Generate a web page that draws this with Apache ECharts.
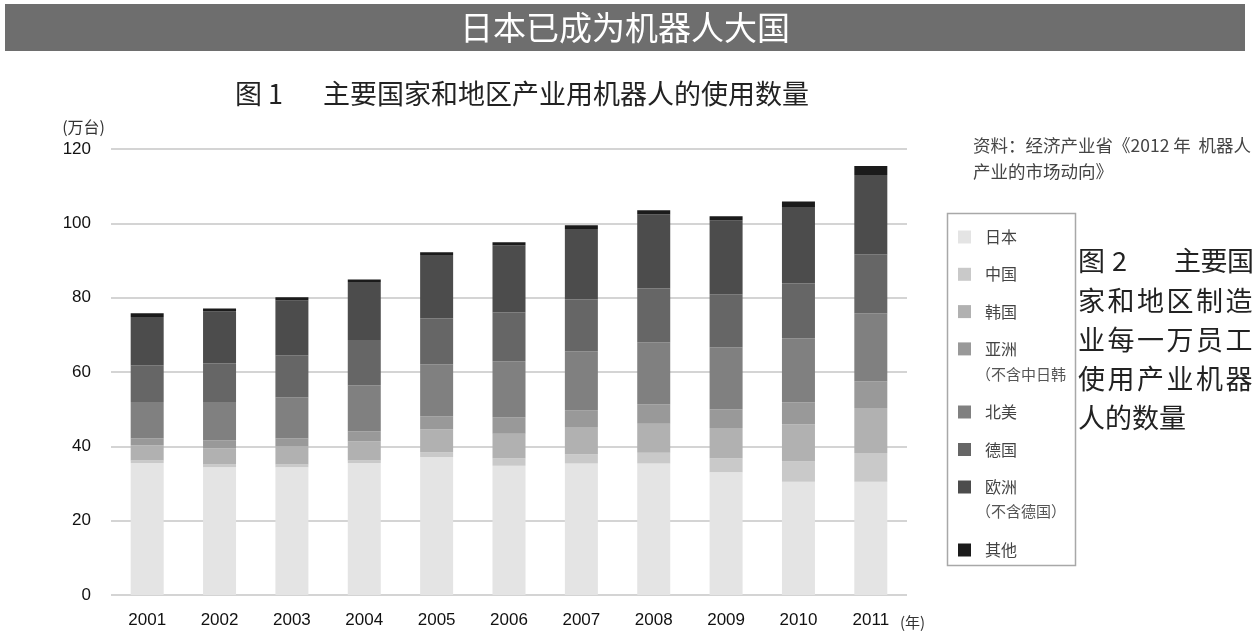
<!DOCTYPE html>
<html>
<head>
<meta charset="utf-8">
<script src="https://cdn.jsdelivr.net/npm/echarts@6/dist/echarts.min.js"></script>
<style>
html,body{margin:0;padding:0;background:#fff;}
#chart{width:1259px;height:644px;}
</style>
</head>
<body>
<div id="chart"></div>
<script>
var years = ['2001','2002','2003','2004','2005','2006','2007','2008','2009','2010','2011'];
var yTicks = [0, 20, 40, 60, 80, 100, 120];
var japan        = [35.5, 34.4, 34.4, 35.5, 37.1, 34.8, 35.4, 35.4, 33.0, 30.5, 30.5];
var china        = [0.7, 0.7, 0.7, 0.7, 1.3, 2.0, 2.5, 2.9, 3.8, 5.4, 7.7];
var korea        = [4.1, 4.3, 4.9, 5.1, 6.1, 6.6, 7.3, 7.8, 8.1, 10.0, 12.1];
var asia         = [1.8, 2.2, 2.1, 2.7, 3.6, 4.4, 4.5, 5.2, 5.0, 5.9, 7.2];
var northAmerica = [9.8, 10.3, 11.1, 12.4, 13.9, 15.1, 15.9, 16.7, 16.7, 17.2, 18.3];
var germany      = [9.9, 10.4, 11.3, 12.2, 12.4, 13.1, 13.9, 14.5, 14.3, 14.8, 15.9];
var europe       = [13.0, 14.0, 14.8, 15.6, 17.1, 18.1, 19.0, 19.9, 19.9, 20.6, 21.3];
var other        = [1.0, 0.8, 0.8, 0.7, 0.7, 0.8, 1.0, 1.1, 1.1, 1.5, 2.4];

var seriesNames = ['日本','中国','韩国','亚洲','北美','德国','欧洲','其他'];
var seriesData = [japan, china, korea, asia, northAmerica, germany, europe, other];
var seriesColors = ['#e4e4e4','#c9c9c9','#b1b1b1','#999999','#808080','#666666','#4c4c4c','#1b1b1b'];

var CJK = '"Noto Sans CJK SC", "Noto Sans", sans-serif';
var LAT = '"Liberation Sans", Arial, sans-serif';

var chart = echarts.init(document.getElementById('chart'), null, {renderer: 'canvas'});

var series = seriesNames.map(function (n, i) {
  return {
    name: n,
    type: 'bar',
    stack: 'total',
    barWidth: 33,
    data: seriesData[i],
    itemStyle: {color: seriesColors[i]},
    emphasis: {disabled: true}
  };
});

function legendGroup(names, top, gap) {
  return {
    orient: 'vertical',
    left: 958,
    top: top,
    padding: 0,
    itemGap: gap,
    itemWidth: 13,
    itemHeight: 13,
    icon: 'rect',
    selectedMode: false,
    data: names,
    textStyle: {fontFamily: CJK, fontSize: 16, lineHeight: 18, color: '#444', padding: [0, 0, 0, 9]}
  };
}

var graphics = [
  {type: 'rect', shape: {x: 5, y: 4, width: 1240, height: 47}, style: {fill: '#6e6e6e'}, z: -1},
  {type: 'rect', shape: {x: 947.5, y: 213.5, width: 128, height: 352}, style: {fill: 'none', stroke: '#a8a8a8', lineWidth: 1.5}},
  {type: 'text', x: 976, y: 374, style: {text: '（不含中日韩', font: '15px ' + CJK, fill: '#555', textVerticalAlign: 'middle'}},
  {type: 'text', x: 976, y: 511, style: {text: '（不含德国）', font: '15px ' + CJK, fill: '#555', textVerticalAlign: 'middle'}},
  {type: 'text', x: 973, y: 145, style: {text: '资料：经济产业省《2012 年  机器人', font: '17.5px ' + CJK, fill: '#444', textVerticalAlign: 'middle'}},
  {type: 'text', x: 973, y: 171, style: {text: '产业的市场动向》', font: '17.5px ' + CJK, fill: '#444', textVerticalAlign: 'middle'}},
  {type: 'text', x: 900, y: 622, style: {text: '(年)', font: '15px ' + CJK, fill: '#333', textVerticalAlign: 'middle'}},
  {type: 'text', x: 235, y: 94, style: {text: '图 1', font: '27px ' + CJK, fill: '#222', textVerticalAlign: 'middle'}},
  {type: 'text', x: 323, y: 94, style: {text: '主要国家和地区产业用机器人的使用数量', font: '27px ' + CJK, fill: '#222', textVerticalAlign: 'middle'}}
];

var capLines = [
  {chars: ['图','2','主','要','国'], xs: [1078, 1112, 1174, 1200.5, 1227], y: 261},
  {chars: '家和地区制造'.split(''), step: 29.5, y: 301},
  {chars: '业每一万员工'.split(''), step: 29.5, y: 340},
  {chars: '使用产业机器'.split(''), step: 29.5, y: 379},
  {chars: '人的数量'.split(''), step: 27, y: 418}
];
capLines.forEach(function (ln) {
  ln.chars.forEach(function (ch, i) {
    var x = ln.xs ? ln.xs[i] : 1078 + i * ln.step;
    graphics.push({type: 'text', x: x, y: ln.y, style: {text: ch, font: '27px ' + CJK, fill: '#222', textVerticalAlign: 'middle'}});
  });
});

var option = {
  animation: false,
  backgroundColor: '#ffffff',
  title: {
    text: '日本已成为机器人大国',
    left: 625,
    top: 11,
    textAlign: 'center',
    padding: 0,
    textStyle: {fontFamily: CJK, fontSize: 33, lineHeight: 33, fontWeight: 'normal', color: '#ffffff'}
  },
  legend: [
    legendGroup(['日本','中国','韩国','亚洲'], 228, 19.3),
    legendGroup(['北美','德国','欧洲'], 403, 19.5),
    legendGroup(['其他'], 541, 10)
  ],
  grid: {left: 111, top: 149, width: 796, height: 446, containLabel: false},
  xAxis: {
    type: 'category',
    data: years,
    axisLine: {show: false},
    axisTick: {show: false},
    axisLabel: {fontFamily: LAT, fontSize: 17, color: '#111', margin: 17}
  },
  yAxis: {
    type: 'value',
    min: yTicks[0],
    max: yTicks[yTicks.length - 1],
    interval: 20,
    name: '(万台)',
    nameLocation: 'end',
    nameGap: 14,
    nameTextStyle: {fontFamily: CJK, fontSize: 16, color: '#333', align: 'right', padding: [0, 6, 0, 0]},
    axisLine: {show: false},
    axisTick: {show: false},
    axisLabel: {fontFamily: LAT, fontSize: 17, color: '#111', margin: 20},
    splitLine: {show: true, lineStyle: {color: '#d4d4d4', width: 2}}
  },
  graphic: graphics,
  series: series
};
chart.setOption(option);
</script>
</body>
</html>
